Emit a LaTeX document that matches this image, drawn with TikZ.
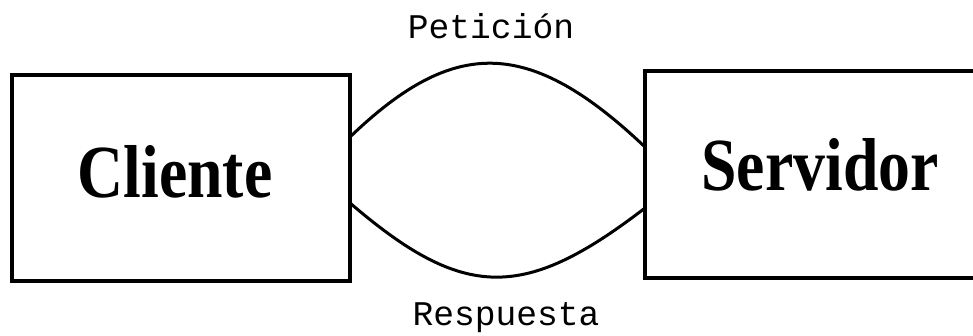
\documentclass[tikz,border=0pt]{standalone}
\usepackage{fontspec}
\setmainfont{Liberation Serif}
\newfontfamily\monofam{Liberation Mono}
\begin{document}
\begin{tikzpicture}[x=1pt,y=-1pt,
  boxst/.style={draw=black,line width=4pt,rectangle,inner sep=0pt,outer sep=0pt},
  bigtext/.style={font=\fontsize{75}{80}\selectfont\bfseries,xscale=0.85,anchor=base,inner sep=0pt},
  monotext/.style={font=\fontsize{34.6}{38}\selectfont\monofam,anchor=base,inner sep=0pt},
  arcst/.style={draw=black,line width=3pt}]
\useasboundingbox (0,0) rectangle (973,335);
\fill[white] (0,0) rectangle (973,335);
\node[boxst,minimum width=338pt,minimum height=206pt] (cl) at (181,178) {};
\node[boxst,minimum width=360pt,minimum height=207pt] (sv) at (825,174.5) {};
\node[bigtext] (clt) at (175,197) {Cliente};
\node[bigtext] (svt) at (820,190) {Servidor};
\node[monotext] (pet) at (491,38) {Petición};
\node[monotext] (res) at (506,325) {Respuesta};
\coordinate (a1) at ([yshift=41pt]cl.east);
\coordinate (a2) at ([yshift=27.5pt]sv.west);
\coordinate (b1) at ([yshift=-25pt]cl.east);
\coordinate (b2) at ([yshift=-33.5pt]sv.west);
\draw[arcst] (a1) .. controls (454,37) and (529,37) .. (a2);
\draw[arcst] (b1) .. controls (464,301) and (524,301) .. (b2);
\end{tikzpicture}
\end{document}
